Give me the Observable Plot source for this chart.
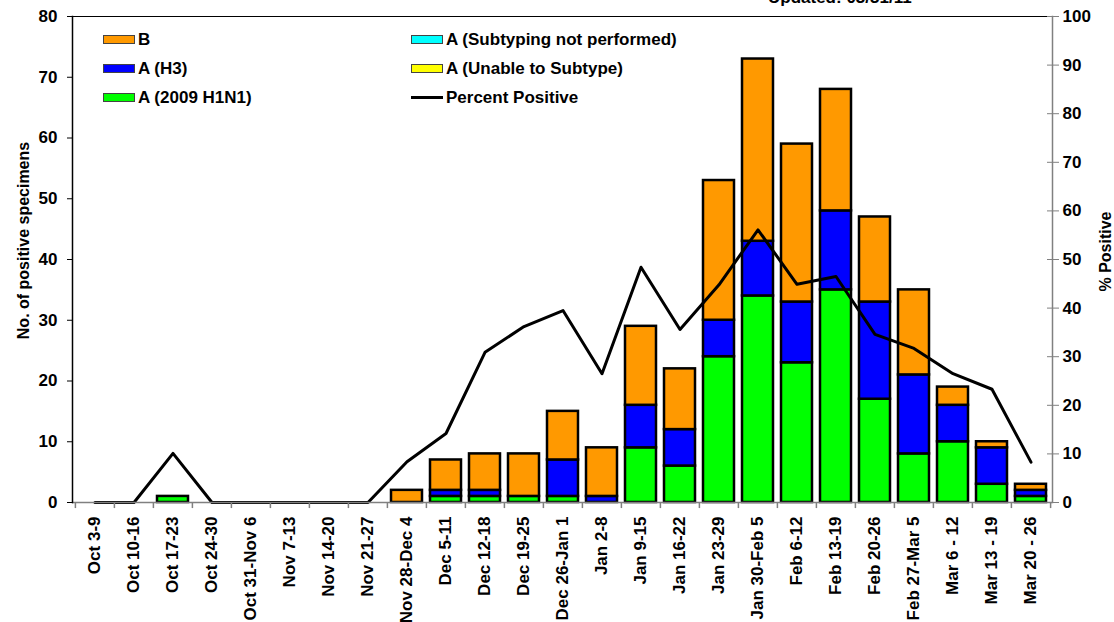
<!DOCTYPE html>
<html><head><meta charset="utf-8">
<script src="https://cdn.jsdelivr.net/npm/d3@7"></script>
<script src="https://cdn.jsdelivr.net/npm/@observablehq/plot@0.6"></script>
<style>
body{margin:0;background:#fff;font-family:Arial,"Liberation Sans",sans-serif;}
#wrap{position:relative;width:1114px;height:622px;overflow:hidden;}
.leg{position:absolute;font-size:17px;font-weight:bold;line-height:17px;white-space:nowrap;display:flex;align-items:center;color:#000}
.sw{width:30px;height:7px;border:1px solid #444;margin-right:3px}
.ln{width:32px;height:3px;background:#000;margin-right:3px}
#upd{position:absolute;left:768px;top:-11px;font-size:17px;font-weight:bold;line-height:17px;white-space:nowrap}
</style></head><body><div id="wrap"></div>
<script>
const weeks = ["Oct 3-9","Oct 10-16","Oct 17-23","Oct 24-30","Oct 31-Nov 6","Nov 7-13","Nov 14-20","Nov 21-27","Nov 28-Dec 4","Dec 5-11","Dec 12-18","Dec 19-25","Dec 26-Jan 1","Jan 2-8","Jan 9-15","Jan 16-22","Jan 23-29","Jan 30-Feb 5","Feb 6-12","Feb 13-19","Feb 20-26","Feb 27-Mar 5","Mar 6 - 12","Mar 13 - 19","Mar 20 - 26"];
const h1n1 = [0,0,1,0,0,0,0,0,0,1,1,1,1,0,9,6,24,34,23,35,17,8,10,3,1];
const h3 = [0,0,0,0,0,0,0,0,0,1,1,0,6,1,7,6,6,9,10,13,16,13,6,6,1];
const unableToSubtype = [0,0,0,0,0,0,0,0,0,0,0,0,0,0,0,0,0,0,0,0,0,0,0,0,0];
const notPerformed = [0,0,0,0,0,0,0,0,0,0,0,0,0,0,0,0,0,0,0,0,0,0,0,0,0];
const fluB = [0,0,0,0,0,0,0,0,2,5,6,7,8,8,13,10,23,30,26,20,14,14,3,1,1];
const pctPositive = [0,0,10.1,0,0,0,0,0,8.4,14.2,30.9,36.2,39.5,26.5,48.4,35.6,44.8,56.1,44.9,46.5,34.6,31.7,26.5,23.3,8.3];
const leftTicks = [0,10,20,30,40,50,60,70,80];
const rightTicks = [0,10,20,30,40,50,60,70,80,90,100];

const types = ["A (2009 H1N1)","A (H3)","A (Unable to Subtype)","A (Subtyping not performed)","B"];
const colors = ["#00FF00","#0000FF","#FFFF00","#00FFFF","#FF9900"];
const seriesVals = [h1n1, h3, unableToSubtype, notPerformed, fluB];

const rows = [];
weeks.forEach((w,i)=>types.forEach((t,j)=>{ if (seriesVals[j][i] > 0) rows.push({week:w, type:t, count:seriesVals[j][i]}); }));
const pctRows = weeks.map((w,i)=>({week:w, pct:pctPositive[i]}));
const k = 80/100; // percent -> left-axis units

const W = 1114, H = 622, ML = 72, MR = 62, MT = 16, MB = 120;
const pI = 0.21, pO = 0.105;
const step = (W - ML - MR) / (weeks.length - pI + 2*pO);
const font = {fontSize:17, fontWeight:"bold", fill:"#000"};

const chart = Plot.plot({
  width: W, height: H,
  marginLeft: ML, marginRight: MR, marginTop: MT, marginBottom: MB,
  style: {fontFamily: 'Arial, "Liberation Sans", sans-serif', background:"#fff", overflow:"visible"},
  x: {type:"band", domain: weeks, paddingInner: pI, paddingOuter: pO, axis: null, label: null},
  y: {domain:[0,80], nice:false, axis: null, label: null},
  color: {domain: types, range: colors},
  marks: [
    Plot.barY(rows, {x:"week", y:"count", fill:"type", order: types, stroke:"#000", strokeWidth:2.5}),
    Plot.lineY(pctRows, {x:"week", y: d => d.pct*k, stroke:"#000", strokeWidth:3}),
    // frame lines
    Plot.ruleY([80], {stroke:"#000", strokeWidth:1.2}),
    Plot.ruleY([0], {stroke:"#808080", strokeWidth:1.5}),
    Plot.frame({anchor:"left", stroke:"#000", strokeWidth:1.5}),
    Plot.frame({anchor:"right", stroke:"#808080", strokeWidth:1.5}),
    // x boundary ticks
    Plot.ruleX(weeks, {dx: -step/2, y1: 0, y2: -1, stroke:"#808080", strokeWidth:1.5}),
    Plot.ruleX([weeks[weeks.length-1]], {dx: step/2, y1: 0, y2: -1, stroke:"#808080", strokeWidth:1.5}),
    Plot.axisX({tickSize:0, tickRotate:-90, tickPadding:14, label:null, ...font}),
    Plot.axisY({anchor:"left", ticks:leftTicks, tickSize:5, tickPadding:10, stroke:"#000", label:null, ...font}),
    Plot.axisY({anchor:"right", ticks:rightTicks.map(d=>d*k), tickFormat: d => Math.round(d/k), tickSize:6, tickPadding:4, stroke:"#808080", label:null, ...font}),
    Plot.axisY({anchor:"right", ticks:rightTicks.map(d=>d*k), tickFormat: () => "", tickSize:-6, stroke:"#808080", label:null}),
    Plot.text(["No. of positive specimens"], {text: d=>d, frameAnchor:"left", dx:-49, dy:-19, rotate:-90, textAnchor:"middle", fontSize:16, fontWeight:"bold", fill:"#000"}),
    Plot.text(["% Positive"], {text: d=>d, frameAnchor:"right", dx:53, dy:-8, rotate:-90, textAnchor:"middle", fontSize:16, fontWeight:"bold", fill:"#000"})
  ]
});
const wrap = document.getElementById("wrap");
wrap.appendChild(chart);

const legendItems = [
  {label:"B", color:"#FF9900", x:103, y:39},
  {label:"A (H3)", color:"#0000FF", x:103, y:68},
  {label:"A (2009 H1N1)", color:"#00FF00", x:103, y:97},
  {label:"A (Subtyping not performed)", color:"#00FFFF", x:411, y:39},
  {label:"A (Unable to Subtype)", color:"#FFFF00", x:411, y:68},
  {label:"Percent Positive", color:null, x:411, y:97}
];
for (const it of legendItems) {
  const d = document.createElement("div");
  d.className = "leg";
  d.style.left = it.x + "px";
  d.style.top = (it.y - 8) + "px";
  const s = document.createElement("span");
  if (it.color) { s.className = "sw"; s.style.background = it.color; } else { s.className = "ln"; }
  d.appendChild(s);
  d.appendChild(document.createTextNode(it.label));
  wrap.appendChild(d);
}
const u = document.createElement("div");
u.id = "upd"; u.textContent = "Updated:  03/31/11";
wrap.appendChild(u);
</script>
</body></html>
